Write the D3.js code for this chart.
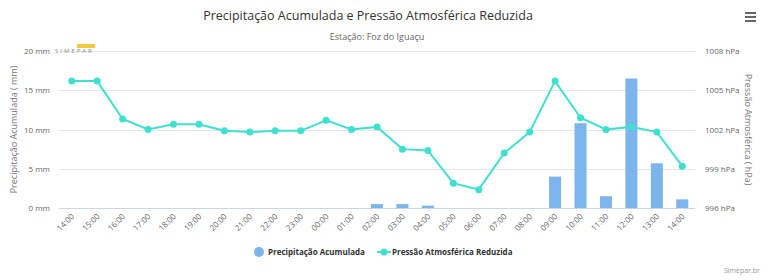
<!DOCTYPE html>
<html>
<head>
<meta charset="utf-8">
<script src="https://cdn.jsdelivr.net/npm/d3@7"></script>
<style>
  body { margin: 0; background: #fff; }
  text { font-family: "Open Sans", "DejaVu Sans", sans-serif; }
</style>
</head>
<body>
<svg id="chart" width="768" height="280"></svg>
<script>
var svg = d3.select('#chart');

// data
var hours = ['14:00', '15:00', '16:00', '17:00', '18:00', '19:00', '20:00', '21:00', '22:00', '23:00',
    '00:00', '01:00', '02:00', '03:00', '04:00', '05:00', '06:00', '07:00', '08:00', '09:00',
    '10:00', '11:00', '12:00', '13:00', '14:00'];
var precip = [0, 0, 0, 0, 0, 0, 0, 0, 0, 0,
    0, 0, 0.5, 0.5, 0.3, 0, 0, 0, 0, 4.0,
    10.8, 1.5, 16.5, 5.7, 1.1];
var pressure = [1005.7, 1005.7, 1002.8, 1002.0, 1002.4, 1002.4, 1001.9, 1001.8, 1001.9, 1001.9,
    1002.7, 1002.0, 1002.2, 1000.5, 1000.4, 997.9, 997.4, 1000.2, 1001.8, 1005.7,
    1002.9, 1002.0, 1002.2, 1001.8, 999.2];
var mmTicks = [0, 5, 10, 15, 20];
var hpaTicks = [996, 999, 1002, 1005, 1008];

var plotL = 59, plotR = 695, plotT = 51, plotB = 208;
var lineColor = '#40e0d0';

var x = d3.scaleBand()
    .domain(d3.range(hours.length))
    .range([plotL, plotR]);

var yMm = d3.scaleLinear().domain([0, 20]).range([plotB, plotT]);
var yHpa = d3.scaleLinear().domain([996, 1008]).range([plotB, plotT]);

// title
svg.append('text')
    .attr('x', 368)
    .attr('y', 20)
    .attr('text-anchor', 'middle')
    .style('font-size', '12.5px')
    .style('fill', '#333')
    .text('Precipitação Acumulada e Pressão Atmosférica Reduzida');

svg.append('text')
    .attr('x', 377)
    .attr('y', 40)
    .attr('text-anchor', 'middle')
    .style('font-size', '9px')
    .style('fill', '#666')
    .text('Estação: Foz do Iguaçu');

// menu icon
[0, 1, 2].forEach(function (i) {
    svg.append('rect')
        .attr('x', 745)
        .attr('y', 12 + i * 4)
        .attr('width', 11)
        .attr('height', 2)
        .style('fill', '#666');
});

// grid
svg.append('g')
    .selectAll('line')
    .data(mmTicks.slice(1))
    .join('line')
    .attr('x1', plotL)
    .attr('x2', plotR)
    .attr('y1', function (d) { return Math.round(yMm(d)) + 0.5; })
    .attr('y2', function (d) { return Math.round(yMm(d)) + 0.5; })
    .style('stroke', '#e6e6e6');

// left axis labels
svg.append('g')
    .selectAll('text')
    .data(mmTicks)
    .join('text')
    .attr('x', 50)
    .attr('y', function (d) { return yMm(d) + 3; })
    .attr('text-anchor', 'end')
    .style('font-size', '8px')
    .style('fill', '#666')
    .text(function (d) { return d + ' mm'; });

// right axis labels
svg.append('g')
    .selectAll('text')
    .data(hpaTicks)
    .join('text')
    .attr('x', 705)
    .attr('y', function (d) { return yHpa(d) + 3; })
    .style('font-size', '8px')
    .style('fill', '#666')
    .text(function (d) { return d + ' hPa'; });

svg.append('text')
    .attr('transform', 'translate(17,' + (plotT + plotB) / 2 + ') rotate(-90)')
    .attr('text-anchor', 'middle')
    .style('font-size', '9px')
    .style('fill', '#777')
    .text('Precipitação Acumulada ( mm)');

svg.append('text')
    .attr('transform', 'translate(745,' + (plotT + plotB) / 2 + ') rotate(90)')
    .attr('text-anchor', 'middle')
    .style('font-size', '9px')
    .style('fill', '#777')
    .text('Pressão Atmosférica ( hPa)');

// logo
svg.append('rect')
    .attr('x', 77).attr('y', 44).attr('width', 18).attr('height', 4)
    .style('fill', '#f5c842');
svg.append('text')
    .attr('x', 55).attr('y', 53)
    .style('font-size', '6px')
    .style('letter-spacing', '2px')
    .style('fill', '#888')
    .text('SIMEPAR');

// bars
var bw = 12;
svg.append('g')
    .selectAll('rect')
    .data(precip)
    .join('rect')
    .attr('x', function (d, i) { return x(i) + x.bandwidth() / 2 - bw / 2; })
    .attr('y', function (d) { return yMm(d); })
    .attr('width', bw)
    .attr('height', function (d) { return plotB - yMm(d); })
    .style('fill', '#7cb5ec');

// x axis line
svg.append('line')
    .attr('x1', plotL).attr('x2', plotR)
    .attr('y1', plotB + 0.5).attr('y2', plotB + 0.5)
    .style('stroke', '#ccd6eb');

// x labels
svg.append('g')
    .selectAll('text')
    .data(hours)
    .join('text')
    .attr('transform', function (d, i) {
        return 'translate(' + (x(i) + x.bandwidth() / 2 + 3) + ',' + (plotB + 9) + ') rotate(-45)';
    })
    .attr('text-anchor', 'end')
    .style('font-size', '8px')
    .style('fill', '#666')
    .text(function (d) { return d; });

// pressure line
var line = d3.line()
    .x(function (d, i) { return x(i) + x.bandwidth() / 2; })
    .y(function (d) { return yHpa(d); });

svg.append('path')
    .datum(pressure)
    .attr('d', line)
    .style('fill', 'none')
    .style('stroke', lineColor)
    .style('stroke-width', 2);

svg.append('g')
    .selectAll('circle')
    .data(pressure)
    .join('circle')
    .attr('cx', function (d, i) { return x(i) + x.bandwidth() / 2; })
    .attr('cy', function (d) { return yHpa(d); })
    .attr('r', 3.5)
    .style('fill', lineColor);

// legend
svg.append('circle')
    .attr('cx', 259).attr('cy', 252).attr('r', 5)
    .style('fill', '#7cb5ec');
svg.append('text')
    .attr('x', 268).attr('y', 255)
    .style('font-size', '8px')
    .style('font-weight', 'bold')
    .style('fill', '#333')
    .text('Precipitação Acumulada');

svg.append('line')
    .attr('x1', 377).attr('x2', 391).attr('y1', 252).attr('y2', 252)
    .style('stroke', lineColor).style('stroke-width', 2);
svg.append('circle')
    .attr('cx', 384).attr('cy', 252).attr('r', 3.5)
    .style('fill', lineColor);
svg.append('text')
    .attr('x', 392).attr('y', 255)
    .style('font-size', '8px')
    .style('font-weight', 'bold')
    .style('fill', '#333')
    .text('Pressão Atmosférica Reduzida');

// credits
svg.append('text')
    .attr('x', 760).attr('y', 273)
    .attr('text-anchor', 'end')
    .style('font-size', '7px')
    .style('fill', '#999')
    .text('Simepar.br');
</script>
</body>
</html>
